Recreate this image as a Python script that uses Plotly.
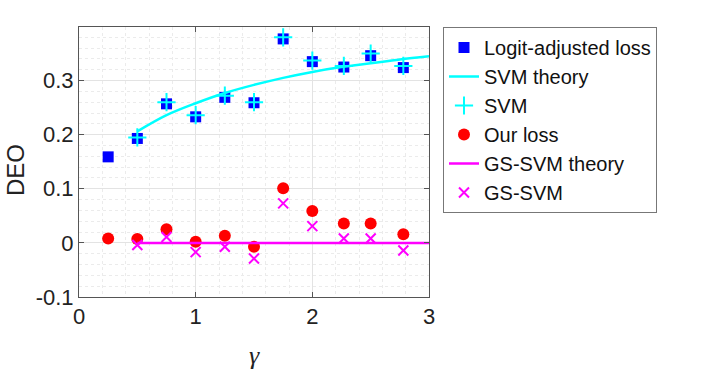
import plotly.graph_objects as go

gamma = [0.25, 0.5, 0.75, 1.0, 1.25, 1.5, 1.75, 2.0, 2.27, 2.5, 2.78]
logit_deo = [0.159, 0.193, 0.257, 0.233, 0.269, 0.259, 0.377, 0.335, 0.325, 0.346, 0.324]

gamma_svm = gamma[1:]
svm_deo = [0.195, 0.26, 0.236, 0.272, 0.26, 0.38, 0.337, 0.327, 0.35, 0.327]

ours_deo = [0.008, 0.007, 0.025, 0.002, 0.013, -0.007, 0.101, 0.059, 0.036, 0.036, 0.016]
gssvm_deo = [-0.004, 0.011, -0.017, -0.007, -0.029, 0.073, 0.031, 0.008, 0.008, -0.014]

# theory curves
gamma_th = [0.5, 0.75, 1.0, 1.25, 1.5, 1.75, 2.0, 2.25, 2.5, 2.75, 3.0]
svm_th = [0.206, 0.236, 0.258, 0.277, 0.292, 0.305, 0.316, 0.325, 0.332, 0.339, 0.345]
gssvm_th = [0.0] * len(gamma_th)

fig = go.Figure()
fig.add_trace(go.Scatter(x=gamma, y=logit_deo, mode='markers', name='Logit-adjusted loss',
                         marker=dict(symbol='square', size=11, color='#0000ff')))
fig.add_trace(go.Scatter(x=gamma_th, y=svm_th, mode='lines', name='SVM theory',
                         line=dict(color='#00ffff', width=2.5, shape='spline')))
fig.add_trace(go.Scatter(x=gamma_svm, y=svm_deo, mode='markers', name='SVM',
                         marker=dict(symbol='cross-thin', size=13, color='#00ffff',
                                     line=dict(color='#00ffff', width=2))))
fig.add_trace(go.Scatter(x=gamma, y=ours_deo, mode='markers', name='Our loss',
                         marker=dict(symbol='circle', size=12, color='#ff0000')))
fig.add_trace(go.Scatter(x=gamma_th, y=gssvm_th, mode='lines', name='GS-SVM theory',
                         line=dict(color='#ff00ff', width=2.5)))
fig.add_trace(go.Scatter(x=gamma_svm, y=gssvm_deo, mode='markers', name='GS-SVM',
                         marker=dict(symbol='x-thin', size=10, color='#ff00ff',
                                     line=dict(color='#ff00ff', width=2))))

axis_common = dict(showline=True, linecolor='#555', linewidth=1, mirror='ticks',
                   ticks='inside', ticklen=5, tickcolor='#555', showgrid=True,
                   gridcolor='#e3e3e3', zeroline=False, automargin=False,
                   tickfont=dict(family='Liberation Sans', size=22, color='#222'))

fig.update_xaxes(range=[0, 3], tickvals=[0, 1, 2, 3], **axis_common,
                 minor=dict(dtick=0.2, showgrid=True, gridcolor='#ebebeb', griddash='dot', ticks=''))
fig.update_yaxes(range=[-0.1, 0.399], tickvals=[-0.1, 0, 0.1, 0.2, 0.3],
                 ticktext=['-0.1', '0', '0.1', '0.2', '0.3'], **axis_common,
                 minor=dict(dtick=0.02, showgrid=True, gridcolor='#ebebeb', griddash='dot', ticks=''))

# axis titles as annotations so they sit where the original has them
fig.add_annotation(text='DEO', xref='paper', yref='paper', x=-0.183, y=0.47,
                   xanchor='center', yanchor='middle', textangle=-90, showarrow=False,
                   font=dict(family='Liberation Sans', size=24, color='#222'))
fig.add_annotation(text='<i>γ</i>', xref='paper', yref='paper', x=0.5, y=-0.215,
                   xanchor='center', yanchor='middle', showarrow=False,
                   font=dict(family='Liberation Serif', size=26, color='#222'))

fig.update_layout(
    width=706, height=374,
    margin=dict(l=79, r=277, t=27, b=77),
    plot_bgcolor='white', paper_bgcolor='white',
    showlegend=True,
    legend=dict(x=1.04, y=1.0, xanchor='left', yanchor='top',
                bordercolor='#777', borderwidth=1, bgcolor='white',
                font=dict(family='Liberation Sans', size=20, color='#111'),
                tracegroupgap=0, itemwidth=30),
)

# drop the default 8px page margin so the figure fills the window
fig.write_html("out.html", config={'displayModeBar': False},
               post_script="document.body.style.margin = '0';")
